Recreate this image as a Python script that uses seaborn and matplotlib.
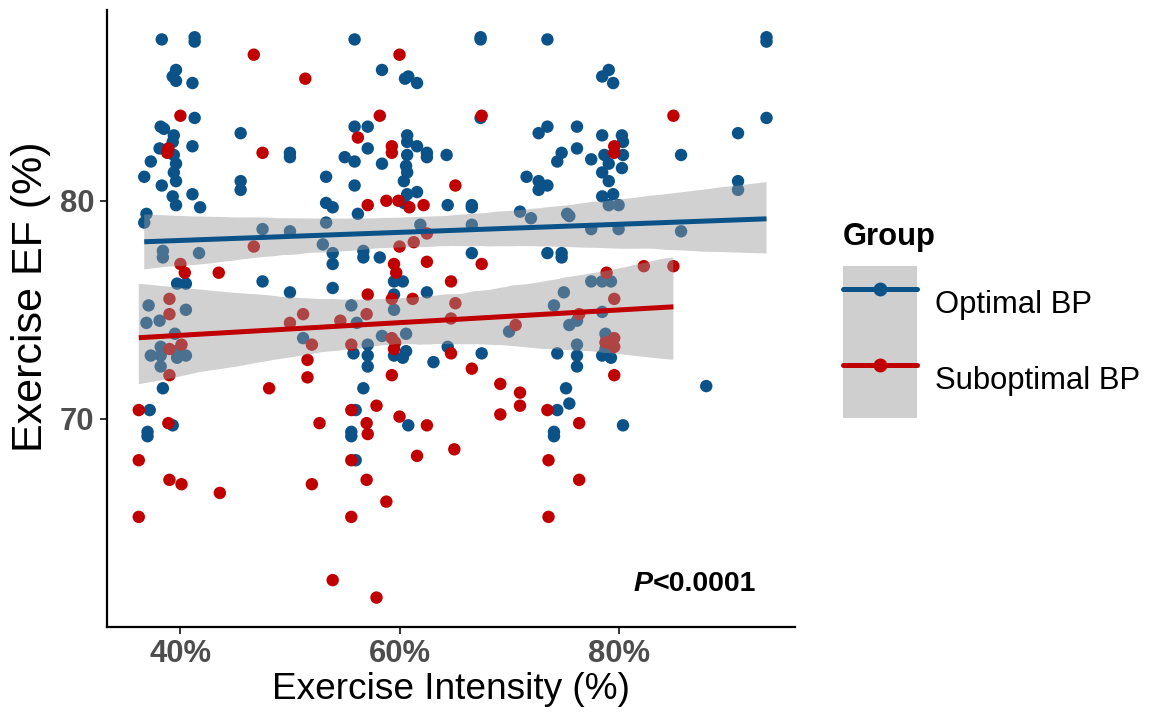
import numpy as np
import pandas as pd
import matplotlib
matplotlib.use("Agg")
import matplotlib.pyplot as plt
from matplotlib import font_manager
from matplotlib.lines import Line2D
from matplotlib.patches import Patch
from matplotlib.legend_handler import HandlerTuple
from matplotlib.ticker import FixedLocator, FuncFormatter
import seaborn as sns

# ---------------- data ----------------
groups = ["Optimal BP", "Suboptimal BP"]
colors = ["#0B5288", "#C00000"]

opt_x = [38.3, 41.3, 41.3, 39.6, 39.3, 39.6, 41.1, 41.3, 38.2, 38.5, 39.4, 39.3, 38.1, 41.1, 39.4,
         37.3, 39.6, 39.4, 36.7, 39.6, 38.3, 39.3, 41.1, 39.6, 41.8, 36.9, 36.7, 45.5, 50.0, 50.0,
         45.5, 45.5, 53.3, 53.3, 53.9, 53.3, 47.5, 50.0,
         55.9, 67.4, 67.4, 73.5, 58.4, 60.5, 60.8, 61.6, 55.9, 57.1, 67.4, 73.5, 72.7, 57.1, 60.7,
         60.7, 61.6, 60.7, 62.5, 62.5, 64.3, 55.0, 55.9, 58.4, 60.6, 60.7, 60.4, 55.9, 74.8, 74.4,
         71.6, 72.7, 73.5, 72.7, 60.7, 61.6, 60.4, 64.4, 66.6, 66.6, 56.2, 71.0, 72.0, 75.3, 61.9,
         66.6,
         93.5, 93.5, 79.1, 78.5, 79.5, 93.5, 90.9, 76.2, 78.5, 80.3, 80.4, 76.2, 77.5, 78.7, 79.1,
         80.4, 80.3, 85.7, 78.5, 79.1, 90.9, 90.9, 78.5, 79.5, 79.1, 80.0, 75.5, 77.5, 80.0, 85.7,
         38.4, 38.4, 41.7, 53.0, 53.9, 53.9, 39.7, 40.5, 47.5, 50.0, 53.9, 37.1, 36.9, 38.1, 40.5,
         39.5, 38.2, 37.3, 38.2, 38.2, 39.6, 39.7, 40.5, 38.4, 37.2, 37.0, 37.0, 39.3, 51.2,
         56.7, 56.7, 58.2, 66.6, 73.5, 74.8, 74.8, 59.5, 60.3, 59.5, 62.5, 55.6, 59.5, 56.1, 58.4,
         60.6, 57.1, 55.8, 57.1, 57.1, 59.5, 60.3, 60.6, 63.1, 64.4, 67.5, 70.0, 74.1, 75.0, 74.4,
         56.7, 56.0, 60.8, 55.6, 55.6, 74.1, 74.1, 75.2, 75.5, 74.4,
         77.5, 78.5, 79.3, 78.5, 75.5, 76.2, 78.8, 78.9, 76.2, 76.2, 76.2, 78.5, 79.3, 78.8, 88.0,
         80.4, 56.0]
opt_y = [87.4, 87.5, 87.3, 86.0, 85.7, 85.5, 85.4, 83.8, 83.4, 83.3, 83.0, 82.7, 82.4, 82.5, 82.1,
         81.8, 81.7, 81.3, 81.1, 80.9, 80.7, 80.2, 80.3, 79.8, 79.7, 79.4, 79.0, 83.1, 82.2, 82.0,
         80.9, 80.5, 81.1, 79.9, 79.7, 79.0, 78.7, 78.6,
         87.4, 87.5, 87.4, 87.4, 86.0, 85.6, 85.7, 85.4, 83.4, 83.4, 83.8, 83.4, 83.1, 82.4, 83.0,
         82.7, 82.5, 82.1, 82.2, 82.0, 82.1, 82.0, 81.8, 81.7, 81.6, 81.3, 80.9, 80.7, 82.2, 81.8,
         81.1, 80.9, 80.7, 80.5, 80.3, 80.4, 79.9, 79.8, 79.8, 79.7, 79.4, 79.5, 79.2, 79.4, 78.9,
         78.9,
         87.5, 87.3, 86.0, 85.7, 85.4, 83.8, 83.1, 83.4, 83.0, 83.0, 82.7, 82.4, 81.9, 82.1, 81.7,
         82.1, 81.5, 82.1, 81.3, 80.9, 80.9, 80.5, 80.2, 80.3, 79.8, 79.8, 79.3, 78.7, 78.7, 78.6,
         77.7, 77.4, 77.6, 78.0, 77.6, 77.1, 76.2, 76.2, 76.3, 75.8, 76.0, 75.2, 74.4, 74.5, 75.0,
         73.9, 73.3, 72.9, 72.9, 72.4, 73.1, 72.8, 72.9, 71.4, 70.4, 69.4, 69.2, 69.7, 73.7,
         77.7, 77.4, 77.4, 77.6, 77.6, 77.6, 77.4, 76.3, 76.3, 75.7, 75.8, 75.2, 75.0, 74.4, 73.8,
         73.9, 73.4, 73.0, 72.9, 72.4, 72.9, 72.8, 73.1, 72.6, 73.3, 73.0, 74.0, 75.2, 75.8, 73.0,
         71.4, 70.4, 69.7, 69.4, 69.2, 69.4, 69.2, 71.4, 70.7, 70.4,
         76.3, 76.3, 76.3, 74.9, 74.3, 74.5, 73.9, 73.7, 73.4, 72.9, 72.4, 72.9, 72.8, 73.2, 71.5,
         69.7, 68.1]

sub_x = [46.7, 51.4, 40.0, 38.9, 38.8, 47.5,
         60.0, 58.2, 67.5, 56.2, 59.3, 59.3, 65.1, 57.1, 58.8, 59.9, 60.9, 62.2,
         85.0, 79.6, 79.6,
         46.7, 40.0, 40.4, 43.5, 39.0, 39.0, 40.1, 39.0, 39.0, 36.2, 38.9, 48.1, 52.7, 50.0, 51.2,
         52.0, 51.6, 51.6,
         60.0, 61.3, 62.5, 59.5, 59.7, 62.5, 67.5, 64.7, 57.1, 59.3, 61.2, 65.1, 54.6, 57.0, 64.7,
         70.6, 55.6, 59.3, 59.6, 59.5, 64.7, 59.3, 66.6, 69.2, 71.0, 71.0, 55.6, 57.9, 69.2, 73.5,
         57.0, 57.1, 60.0, 62.5,
         82.3, 85.0, 78.9, 79.6, 76.4, 79.6, 79.6, 78.8, 79.6, 76.4,
         36.2, 39.0, 40.1, 43.6, 52.0, 36.2, 53.9,
         55.6, 61.6, 65.0, 57.0, 58.8, 55.6, 57.9, 73.6, 73.6, 76.4]
sub_y = [86.7, 85.6, 83.9, 82.4, 82.2, 82.2,
         86.7, 83.9, 83.9, 82.9, 82.5, 82.2, 80.7, 79.8, 80.0, 80.0, 79.7, 79.8,
         83.9, 82.5, 82.2,
         77.9, 77.1, 76.7, 76.7, 75.5, 74.8, 73.4, 73.2, 72.0, 70.4, 69.8, 71.4, 69.8, 74.4, 74.8,
         73.4, 72.7, 71.9,
         77.9, 78.1, 78.5, 77.1, 76.7, 77.2, 77.1, 76.3, 75.7, 75.5, 75.5, 75.3, 74.5, 74.8, 74.6,
         74.3, 73.4, 73.7, 73.5, 73.2, 73.0, 72.0, 72.3, 71.6, 71.2, 70.6, 70.4, 70.6, 70.2, 70.4,
         69.8, 69.3, 70.1, 69.7,
         77.0, 77.0, 76.7, 75.5, 74.8, 73.7, 73.3, 73.5, 72.0, 69.8,
         68.1, 67.2, 67.0, 66.6, 67.0, 65.5, 62.6,
         68.1, 68.3, 68.6, 67.2, 66.2, 65.5, 61.8, 68.1, 65.5, 67.2]

x_ticks = [40, 60, 80]
x_tick_labels = ["40%", "60%", "80%"]
y_ticks = [70, 80]
p_label = "<0.0001"

df = pd.DataFrame({
    "x": opt_x + sub_x,
    "y": opt_y + sub_y,
    "Group": [groups[0]] * len(opt_x) + [groups[1]] * len(sub_x),
})

# ---------------- fonts ----------------
names = {f.name for f in font_manager.fontManager.ttflist}
narrow = "Liberation Sans Narrow" in names
base_font = "Liberation Sans Narrow" if narrow else "Liberation Sans"
scale = 1.0 if narrow else 0.86

sns.set_theme(style="white")
plt.rcParams["font.family"] = [base_font, "DejaVu Sans"]
plt.rcParams["text.color"] = "black"
plt.rcParams["axes.labelcolor"] = "black"
plt.rcParams["legend.labelcolor"] = "black"

fig = plt.figure(figsize=(11.63, 7.13), dpi=100)
ax = fig.add_axes([107 / 1163, 1 - 627 / 713, (795 - 107) / 1163, (627 - 10) / 713])

sns.scatterplot(data=df, x="x", y="y", hue="Group", hue_order=groups,
                palette=colors, s=80, linewidth=0, alpha=1, ax=ax, legend=False,
                zorder=1)

for g, c in zip(groups, colors):
    sub = df[df["Group"] == g]
    n_before = len(ax.collections)
    sns.regplot(data=sub, x="x", y="y", scatter=False, ci=95, n_boot=1000, seed=1,
                color=c, truncate=True, line_kws=dict(lw=3.6, solid_capstyle="butt", zorder=3),
                ax=ax)
    for coll in ax.collections[n_before:]:
        coll.set_facecolor("#999999")
        coll.set_alpha(0.45)
        coll.set_edgecolor("none")
        coll.set_zorder(2)

ax.set_xlim(33.3, 96.1)
ax.set_ylim(60.45, 88.75)
ax.xaxis.set_major_locator(FixedLocator(x_ticks))
ax.xaxis.set_major_formatter(FuncFormatter(lambda v, p: x_tick_labels[x_ticks.index(int(round(v)))]))
ax.yaxis.set_major_locator(FixedLocator(y_ticks))

for side in ["top", "right"]:
    ax.spines[side].set_visible(False)
for side in ["left", "bottom"]:
    ax.spines[side].set_color("black")
    ax.spines[side].set_linewidth(1.6)

ax.tick_params(axis="both", which="major", length=5, width=1.4, color="#333333",
               labelsize=26 * scale, labelcolor="#4D4D4D", pad=4, bottom=True, left=True)
for lab in ax.get_xticklabels() + ax.get_yticklabels():
    lab.set_fontweight("bold")

ax.set_xlabel("Exercise Intensity (%)", fontsize=31 * scale, color="black", labelpad=2)
ax.set_ylabel("Exercise EF (%)", fontsize=31, color="black")
ax.yaxis.set_label_coords(-0.081, 0.535)

# P-value annotation
p_fs = 20.5
ax.text(0.793, 0.058, p_label, transform=ax.transAxes, fontsize=p_fs,
        fontweight="bold", ha="left", va="baseline", color="black")
ax.text(0.793, 0.058, "P", transform=ax.transAxes, fontsize=p_fs,
        fontweight="bold", fontstyle="italic", ha="right", va="baseline", color="black")

# legend
handles = []
for c in colors:
    handles.append((Patch(facecolor="#CFCFCF", edgecolor="none"),
                    Line2D([], [], color=c, lw=3.6, marker="o", markersize=10,
                           markeredgewidth=0)))
fs = 26 * scale
fs_px = fs * 100 / 72
row_px = 76
hh = (row_px / fs_px - 0.245) / 0.65
leg = fig.legend(handles, groups, handler_map={tuple: HandlerTuple(ndivide=1, pad=0)},
                 loc="upper left", bbox_to_anchor=(843 / 1163, 1 - 222 / 713),
                 frameon=False, fontsize=fs, title="Group",
                 title_fontproperties={"weight": "bold", "size": fs},
                 handlelength=74 / fs_px, handleheight=hh,
                 labelspacing=0.0, handletextpad=18 / fs_px, borderpad=0,
                 borderaxespad=0, alignment="left", labelcolor="black")
leg.get_title().set_color("black")
leg._legend_box.sep = 10

fig.savefig("out.png", dpi=100)
